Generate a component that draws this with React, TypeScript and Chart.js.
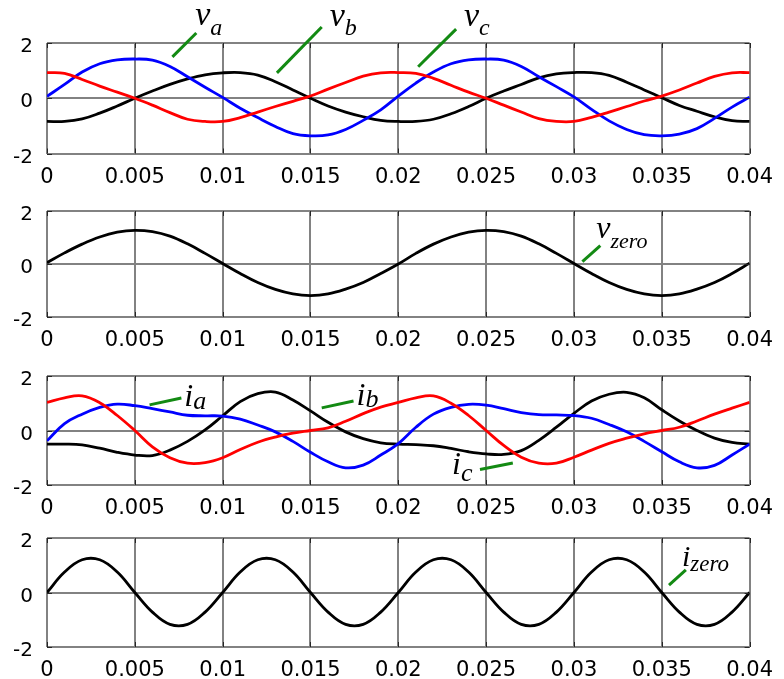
import React, { useEffect, useRef } from "react";
import { Chart, registerables } from "chart.js";

Chart.register(...registerables);

// ---------- data ----------
const time = [
  0, 0.001, 0.002, 0.003, 0.004, 0.005, 0.006, 0.007, 0.008, 0.009, 0.01,
  0.011, 0.012, 0.013, 0.014, 0.015, 0.016, 0.017, 0.018, 0.019, 0.02,
  0.021, 0.022, 0.023, 0.024, 0.025, 0.026, 0.027, 0.028, 0.029, 0.03,
  0.031, 0.032, 0.033, 0.034, 0.035, 0.036, 0.037, 0.038, 0.039, 0.04,
];

const xTickValues = [0, 0.005, 0.01, 0.015, 0.02, 0.025, 0.03, 0.035, 0.04];
const xTickLabels = ["0", "0.005", "0.01", "0.015", "0.02", "0.025", "0.03", "0.035", "0.04"];
const yTickValues = [-2, 0, 2];
const yTickLabels = ["-2", "0", "2"];

// panel 1: phase voltages
const vA = [
  0.07, 0.5, 0.95, 1.25, 1.39, 1.42, 1.38, 1.15, 0.78, 0.4, 0.03,
  -0.36, -0.7, -1.02, -1.28, -1.36, -1.33, -1.13, -0.8, -0.42, 0.08,
  0.55, 0.95, 1.25, 1.39, 1.42, 1.38, 1.15, 0.78, 0.42, 0.05,
  -0.4, -0.82, -1.13, -1.32, -1.36, -1.3, -1.1, -0.73, -0.32, 0.04,
];
const vB = [
  -0.84, -0.84, -0.75, -0.54, -0.28, 0.0, 0.26, 0.5, 0.7, 0.85, 0.92,
  0.93, 0.84, 0.6, 0.3, 0.0, -0.28, -0.5, -0.67, -0.8, -0.84,
  -0.84, -0.76, -0.56, -0.3, 0.0, 0.26, 0.5, 0.74, 0.88, 0.93,
  0.93, 0.83, 0.58, 0.3, 0.02, -0.26, -0.47, -0.67, -0.81, -0.84,
];
const vC = [
  0.93, 0.9, 0.68, 0.44, 0.22, 0.0, -0.25, -0.52, -0.76, -0.84, -0.84,
  -0.7, -0.5, -0.3, -0.11, 0.08, 0.33, 0.57, 0.8, 0.92, 0.93,
  0.9, 0.72, 0.47, 0.22, 0.0, -0.25, -0.5, -0.74, -0.84, -0.84,
  -0.69, -0.5, -0.3, -0.1, 0.08, 0.3, 0.55, 0.79, 0.92, 0.93,
];

// panel 2: zero-sequence voltage
const vZero = [
  0.05, 0.42, 0.75, 1.02, 1.2, 1.27, 1.22, 1.05, 0.76, 0.4, 0.02,
  -0.36, -0.7, -0.96, -1.13, -1.19, -1.13, -0.95, -0.7, -0.36, 0.0,
  0.4, 0.75, 1.02, 1.2, 1.27, 1.22, 1.05, 0.76, 0.4, 0.02,
  -0.36, -0.7, -0.96, -1.13, -1.19, -1.13, -0.95, -0.7, -0.36, 0.03,
];

// panel 3: phase currents
const iA = [
  -0.38, 0.25, 0.6, 0.85, 0.97, 0.91, 0.8, 0.68, 0.56, 0.54, 0.53,
  0.42, 0.2, -0.05, -0.4, -0.8, -1.15, -1.37, -1.27, -0.9, -0.48,
  0.12, 0.6, 0.85, 0.96, 0.93, 0.8, 0.66, 0.58, 0.57, 0.55,
  0.45, 0.22, -0.05, -0.4, -0.78, -1.15, -1.37, -1.28, -0.9, -0.5,
];
const iB = [
  -0.5, -0.5, -0.53, -0.65, -0.8, -0.9, -0.92, -0.72, -0.4, 0.02, 0.54,
  1.06, 1.35, 1.41, 1.12, 0.72, 0.3, -0.05, -0.3, -0.45, -0.5,
  -0.52, -0.56, -0.66, -0.78, -0.86, -0.88, -0.74, -0.36, 0.12, 0.63,
  1.08, 1.33, 1.4, 1.2, 0.76, 0.35, 0.0, -0.28, -0.44, -0.5,
];
const iC = [
  1.03, 1.2, 1.27, 1.02, 0.55, 0.0, -0.6, -1.0, -1.2, -1.18, -1.0,
  -0.7, -0.43, -0.24, -0.1, 0.0, 0.1, 0.34, 0.62, 0.86, 1.03,
  1.2, 1.27, 1.0, 0.55, 0.0, -0.55, -0.98, -1.2, -1.2, -0.98,
  -0.72, -0.47, -0.28, -0.12, 0.0, 0.12, 0.35, 0.6, 0.82, 1.03,
];

// panel 4: zero-sequence current
const iZero = [
  0.0, 0.75, 1.2, 1.2, 0.75, 0.0, -0.72, -1.17, -1.17, -0.72, 0.0,
  0.75, 1.2, 1.2, 0.75, 0.0, -0.72, -1.17, -1.17, -0.72, 0.0,
  0.75, 1.2, 1.2, 0.75, 0.0, -0.72, -1.17, -1.17, -0.72, 0.0,
  0.75, 1.2, 1.2, 0.75, 0.0, -0.72, -1.17, -1.17, -0.72, 0.0,
];

// ---------- styling / layout ----------
const RED = "#ff0000";
const BLUE = "#0000ff";
const BLACK = "#000000";
const GREEN = "#138a13";
const GRID = "#828282";
const W = 784;
const PLOT_LEFT = 47;
const PLOT_RIGHT_PAD = 31;
const TICK_FONT = '"DejaVu Sans", "Liberation Sans", Arial, sans-serif';

type Ann = {
  line: [number, number, number, number];
  at: [number, number];
  main: string;
  sub: string;
  mainSize: number;
  subSize: number;
  subDrop: number;
};

type Panel = {
  top: number;
  height: number;
  padTop: number;
  xAreaHeight: number;
  series: { data: number[]; color: string }[];
  anns: Ann[];
};

const panels: Panel[] = [
  {
    top: 0,
    height: 190,
    padTop: 43,
    xAreaHeight: 36.5,
    series: [
      { data: vC, color: RED },
      { data: vA, color: BLUE },
      { data: vB, color: BLACK },
    ],
    anns: [
      { line: [0.00714, 1.5, 0.0085, 2.36], at: [0.00844, 2.65], main: "v", sub: "a", mainSize: 34, subSize: 24, subDrop: 10 },
      { line: [0.01309, 0.92, 0.01564, 2.58], at: [0.01609, 2.61], main: "v", sub: "b", mainSize: 34, subSize: 24, subDrop: 9 },
      { line: [0.02113, 1.14, 0.02329, 2.5], at: [0.02374, 2.61], main: "v", sub: "c", mainSize: 34, subSize: 24, subDrop: 9 },
    ],
  },
  {
    top: 185,
    height: 165,
    padTop: 19,
    xAreaHeight: 33,
    series: [{ data: vZero, color: BLACK }],
    anns: [
      { line: [0.03048, 0.09, 0.0315, 0.69], at: [0.03127, 0.97], main: "v", sub: "zero", mainSize: 32, subSize: 22, subDrop: 10 },
    ],
  },
  {
    top: 350,
    height: 165,
    padTop: 22,
    xAreaHeight: 30,
    series: [
      { data: iC, color: RED },
      { data: iA, color: BLUE },
      { data: iB, color: BLACK },
    ],
    anns: [
      { line: [0.00584, 0.94, 0.00765, 1.19], at: [0.00782, 0.9], main: "i", sub: "a", mainSize: 32, subSize: 26, subDrop: 3 },
      { line: [0.01564, 0.83, 0.01745, 1.08], at: [0.01762, 0.94], main: "i", sub: "b", mainSize: 32, subSize: 26, subDrop: 2 },
      { line: [0.02465, -1.43, 0.02652, -1.19], at: [0.02306, -1.58], main: "i", sub: "c", mainSize: 32, subSize: 26, subDrop: 7 },
    ],
  },
  {
    top: 512,
    height: 167,
    padTop: 22,
    xAreaHeight: 32,
    series: [{ data: iZero, color: BLACK }],
    anns: [
      { line: [0.03541, 0.27, 0.03637, 0.83], at: [0.03615, 0.97], main: "i", sub: "zero", mainSize: 30, subSize: 23, subDrop: 5 },
    ],
  },
];

function makePlugin(anns: Ann[]) {
  return {
    id: "decor",
    afterDraw(chart: any) {
      const ctx = chart.ctx as CanvasRenderingContext2D;
      const xs = chart.scales.x;
      const ys = chart.scales.y;
      const area = chart.chartArea;
      ctx.save();
      // inward tick marks (MATLAB style)
      ctx.strokeStyle = "#262626";
      ctx.lineWidth = 1;
      ctx.beginPath();
      xTickValues.forEach((v) => {
        const px = Math.round(xs.getPixelForValue(v)) + 0.5;
        ctx.moveTo(px, area.bottom);
        ctx.lineTo(px, area.bottom - 5);
        ctx.moveTo(px, area.top);
        ctx.lineTo(px, area.top + 5);
      });
      yTickValues.forEach((v) => {
        const py = Math.round(ys.getPixelForValue(v)) + 0.5;
        ctx.moveTo(area.left, py);
        ctx.lineTo(area.left + 5, py);
        ctx.moveTo(area.right, py);
        ctx.lineTo(area.right - 5, py);
      });
      ctx.stroke();
      // annotations
      anns.forEach((a) => {
        ctx.strokeStyle = GREEN;
        ctx.lineWidth = 3;
        ctx.lineCap = "butt";
        ctx.beginPath();
        ctx.moveTo(xs.getPixelForValue(a.line[0]), ys.getPixelForValue(a.line[1]));
        ctx.lineTo(xs.getPixelForValue(a.line[2]), ys.getPixelForValue(a.line[3]));
        ctx.stroke();
        const tx = xs.getPixelForValue(a.at[0]);
        const ty = ys.getPixelForValue(a.at[1]);
        ctx.fillStyle = "#000";
        ctx.textBaseline = "alphabetic";
        ctx.textAlign = "left";
        ctx.font = `italic ${a.mainSize}px "Liberation Serif", "DejaVu Serif", serif`;
        ctx.fillText(a.main, tx, ty);
        const w = ctx.measureText(a.main).width;
        ctx.font = `italic ${a.subSize}px "Liberation Serif", "DejaVu Serif", serif`;
        ctx.fillText(a.sub, tx + w, ty + a.subDrop);
      });
      ctx.restore();
    },
  };
}

function PanelChart({ panel }: { panel: Panel }) {
  const ref = useRef<HTMLCanvasElement | null>(null);
  useEffect(() => {
    if (!ref.current) return;
    const chart = new Chart(ref.current, {
      type: "line",
      data: {
        datasets: panel.series.map((s) => ({
          data: time.map((t, i) => ({ x: t, y: s.data[i] })),
          borderColor: s.color,
          backgroundColor: s.color,
          borderWidth: 2.8,
          pointRadius: 0,
          tension: 0.4,
          fill: false,
        })),
      },
      options: {
        animation: false,
        responsive: false,
        events: [],
        layout: { padding: { top: panel.padTop, right: PLOT_RIGHT_PAD, left: 0, bottom: 0 } },
        plugins: { legend: { display: false }, tooltip: { enabled: false } },
        scales: {
          x: {
            type: "linear",
            min: 0,
            max: 0.04,
            afterBuildTicks: (s: any) => {
              s.ticks = xTickValues.map((v) => ({ value: v }));
            },
            afterFit: (s: any) => {
              s.height = panel.xAreaHeight;
            },
            ticks: {
              callback: (_v: any, i: number) => xTickLabels[i],
              autoSkip: false,
              maxRotation: 0,
              padding: 11,
              color: "#000",
              font: { family: TICK_FONT, size: 21 },
            },
            grid: { color: GRID, lineWidth: 2, drawTicks: false },
            border: { display: false },
          },
          y: {
            type: "linear",
            min: -2,
            max: 2,
            afterBuildTicks: (s: any) => {
              s.ticks = yTickValues.map((v) => ({ value: v }));
            },
            afterFit: (s: any) => {
              s.width = PLOT_LEFT;
            },
            ticks: {
              callback: (_v: any, i: number) => yTickLabels[i],
              padding: 14,
              labelOffset: 4,
              color: "#000",
              font: { family: TICK_FONT, size: 20 },
            },
            grid: { color: GRID, lineWidth: 2, drawTicks: false },
            border: { display: false },
          },
        },
      } as any,
      plugins: [makePlugin(panel.anns)],
    });
    return () => chart.destroy();
  }, [panel]);
  return (
    <canvas
      ref={ref}
      width={W}
      height={panel.height}
      style={{ position: "absolute", left: 0, top: panel.top, display: "block" }}
    />
  );
}

export default function App() {
  return (
    <div style={{ position: "absolute", left: 0, top: 0, width: W, height: 679, background: "#fff", overflow: "hidden" }}>
      {panels.map((p, i) => (
        <PanelChart key={i} panel={p} />
      ))}
    </div>
  );
}
